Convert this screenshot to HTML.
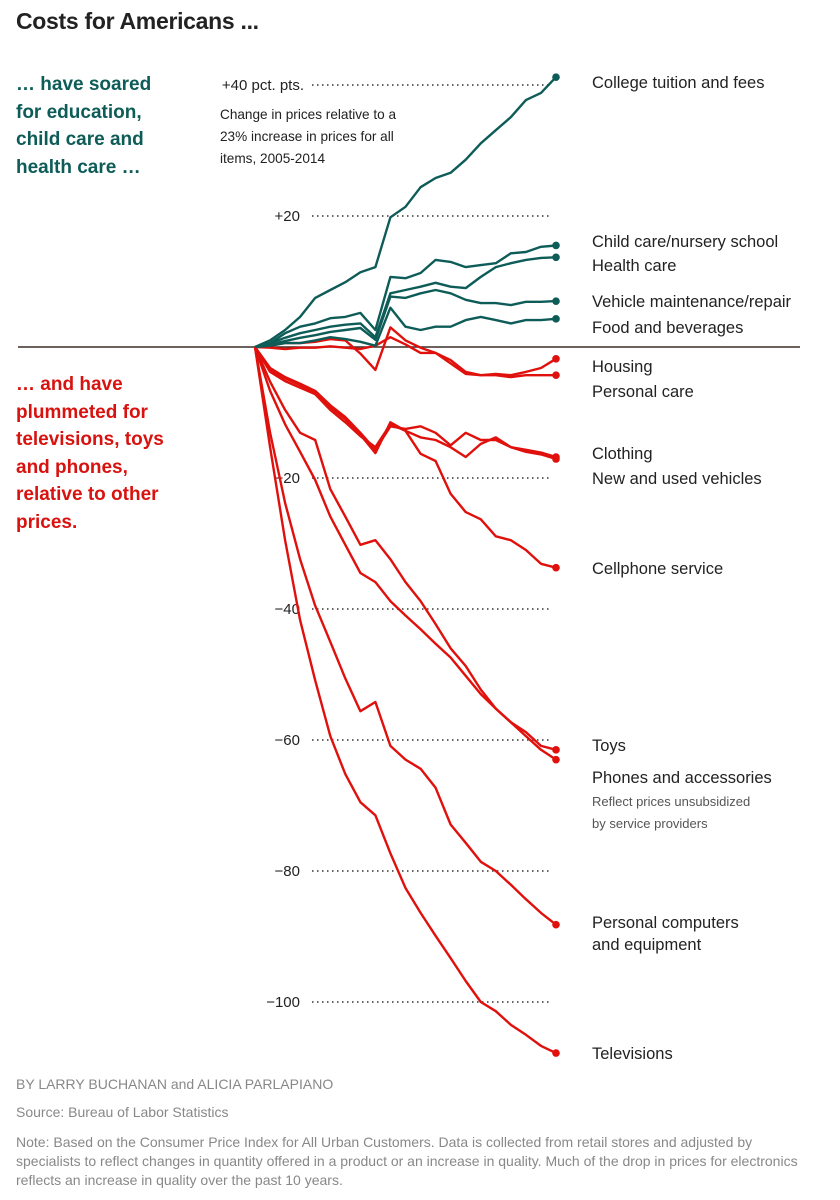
<!DOCTYPE html>
<html><head><meta charset="utf-8"><style>
body{margin:0;background:#fff;font-family:"Liberation Sans",sans-serif;}
#wrap{position:relative;width:840px;height:1200px;overflow:hidden;}
.t{position:absolute;white-space:nowrap;}
</style></head><body>
<div id="wrap">
<div class="t" style="left:16px;top:8px;font-size:23px;font-weight:bold;color:#222;letter-spacing:-0.3px">Costs for Americans ...</div>
<div class="t" style="left:16px;top:71px;font-size:19px;font-weight:bold;color:#0e5c58;line-height:27.5px">… have soared<br>for education,<br>child care and<br>health care …</div>
<div class="t" style="left:16px;top:371px;font-size:19px;font-weight:bold;color:#d8130f;line-height:27.5px">… and have<br>plummeted for<br>televisions, toys<br>and phones,<br>relative to other<br>prices.</div>
<div class="t" style="left:220px;top:104px;font-size:13.6px;color:#222;line-height:22px">Change in prices relative to a<br>23% increase in prices for all<br>items, 2005-2014</div>
<svg id="chart" width="840" height="1200" style="position:absolute;left:0;top:0"></svg>
<div class="t" style="left:16px;top:1076px;font-size:14px;color:#888">BY LARRY BUCHANAN and ALICIA PARLAPIANO</div>
<div class="t" style="left:16px;top:1104px;font-size:14px;color:#888">Source: Bureau of Labor Statistics</div>
<div class="t" style="left:16px;top:1133px;font-size:14px;color:#888;line-height:19px;white-space:normal;width:790px">Note: Based on the Consumer Price Index for All Urban Customers. Data is collected from retail stores and adjusted by specialists to reflect changes in quantity offered in a product or an increase in quality. Much of the drop in prices for electronics reflects an increase in quality over the past 10 years.</div>
</div>
<script>
const ticks=[40,20,-20,-40,-60,-80,-100];
const tickLabels=["+40 pct. pts.","+20","−20","−40","−60","−80","−100"];
const names=["College tuition and fees","Child care/nursery school","Health care","Vehicle maintenance/repair","Food and beverages","Housing","Personal care","Clothing","New and used vehicles","Cellphone service","Toys","Phones and accessories","Personal computers and equipment","Televisions"];
const college=[0,1,2.6,4.6,7.5,8.7,9.9,11.4,12.2,19.8,21.4,24.4,25.8,26.6,28.6,31.1,33.1,35.1,37.7,38.8,41.2];
const childCare=[0,0.6,2.1,3.1,3.6,4.4,4.6,5.2,2.6,10.7,10.5,11.3,13.3,13,12.2,12.5,12.8,14.3,14.5,15.3,15.5];
const healthCare=[0,0.6,1.4,2.1,2.6,3.1,3.4,3.6,1.5,8.2,8.7,9.2,9.8,9.2,9,10.7,12.2,12.8,13.3,13.6,13.7];
const vehicleMaint=[0,0.4,0.9,1.4,1.8,2.3,2.6,2.9,1.1,7.7,7.5,8.2,8.7,8.2,7.2,6.7,6.7,6.4,6.9,6.9,7];
const food=[0,0.2,0.6,0.6,1,1.5,1.2,0.8,0.2,6,3.1,2.6,3.1,3.1,4.1,4.6,4.1,3.6,4.1,4.1,4.3];
const housing=[0,0.2,0.6,0.6,0.8,1.2,1,-1,-3.5,3,1,-0.1,-0.9,-2,-3.8,-4.3,-4.1,-4.3,-3.8,-3.2,-1.8];
const personalCare=[0,-0.1,-0.3,-0.1,-0.1,0.1,-0.1,-0.3,0.2,1.5,0.4,-0.9,-0.9,-2.5,-4.1,-4.3,-4.3,-4.6,-4.3,-4.3,-4.3];
const clothing=[0,-3.2,-4.6,-5.6,-6.7,-8.9,-10.7,-13.1,-15.7,-12.1,-12.5,-12.1,-13.1,-15,-13.1,-14.2,-14.2,-15.3,-15.7,-16.1,-16.8];
const vehicles=[0,-3.5,-4.8,-5.8,-6.9,-9.2,-11,-13.4,-16.2,-11.5,-12.8,-13.8,-14.2,-15.3,-16.8,-14.8,-13.8,-15.3,-16,-16.4,-17.1];
const cellphone=[0,-3.8,-5.2,-6.2,-7.2,-9.6,-11.5,-13.6,-15.3,-11.8,-12.8,-16.3,-17.4,-22.4,-25.2,-26.3,-28.9,-29.5,-31,-33.1,-33.7];
const toys=[0,-5.3,-9.6,-13.1,-14.2,-21.7,-25.9,-30.2,-29.5,-32.4,-35.9,-38.8,-42.3,-46,-48.7,-52.3,-55.2,-57.3,-58.8,-60.9,-61.5];
const phones=[0,-6.7,-11.8,-16,-20.3,-25.9,-30.2,-34.5,-35.9,-38.8,-41,-43.1,-45.3,-47.4,-50.2,-53,-55.2,-57.3,-59.4,-61.5,-63];
const computers=[0,-13.1,-23.8,-32.4,-39.5,-45,-50.6,-55.6,-54.2,-60.9,-63,-64.4,-67.3,-72.9,-75.7,-78.6,-80,-82.1,-84.3,-86.4,-88.2];
const tvs=[0,-15.3,-29.5,-41.7,-50.9,-59.4,-65.2,-69.5,-71.5,-77.3,-82.6,-86.4,-89.9,-93.3,-96.8,-100,-101.4,-103.5,-105,-106.7,-107.8];
const series=[college,childCare,healthCare,vehicleMaint,food,housing,personalCare,clothing,vehicles,cellphone,toys,phones,computers,tvs];

const X0=255,X1=556,Y0=347,K=6.55;
const xs=i=>X0+(X1-X0)*i/20;
const ys=v=>Y0-v*K;
const svg=document.getElementById('chart');
const NS='http://www.w3.org/2000/svg';
function mk(tag,attrs){const e=document.createElementNS(NS,tag);for(const k in attrs)e.setAttribute(k,attrs[k]);svg.appendChild(e);return e;}
ticks.forEach((t,i)=>{
  const l=mk('line',{x1:312,x2:552,y1:ys(t),y2:ys(t),stroke:'#666','stroke-width':2,'stroke-dasharray':'1.5 3.5'});
  
  
  const tx=mk('text',{x:i==0?304:300,y:ys(t)+5,'text-anchor':'end','font-size':15,fill:'#222','font-family':'Liberation Sans, sans-serif'});
  tx.textContent=tickLabels[i];
  
  
});
const z=mk('line',{x1:18,x2:800,y1:ys(0),y2:ys(0),stroke:'#3a2e28','stroke-width':1.5});


const order=[5,6,7,8,9,10,11,12,13,0,1,2,3,4];
order.forEach(s=>{
  const d=series[s];const col=s<5?'#0e5c58':'#e0100c';
  const p=mk('path',{d:d.map((v,i)=>(i?'L':'M')+xs(i).toFixed(1)+' '+ys(v).toFixed(1)).join(''),fill:'none',stroke:col,'stroke-width':2.4,'stroke-linejoin':'round'});
  
  
  const c=mk('circle',{cx:xs(20),cy:ys(d[20]),r:3.8,fill:col});
  
  
});
const labelY=[82,241,265,301,327,366,391,453,478,568,745,777,922,1053];
names.forEach((n,i)=>{
  const parts=n=="Personal computers and equipment"?["Personal computers","and equipment"]:[n];
  parts.forEach((p,j)=>{
    const t=mk('text',{x:592,y:labelY[i]+6+j*22,'font-size':16.5,fill:'#222','font-family':'Liberation Sans, sans-serif'});
    t.textContent=p;
    
    
  });
});
["Reflect prices unsubsidized","by service providers"].forEach((p,j)=>{
  const t=mk('text',{x:592,y:806+j*22,'font-size':13,fill:'#555','font-family':'Liberation Sans, sans-serif'});
  t.textContent=p;
  
  
});
</script>
</body></html>
